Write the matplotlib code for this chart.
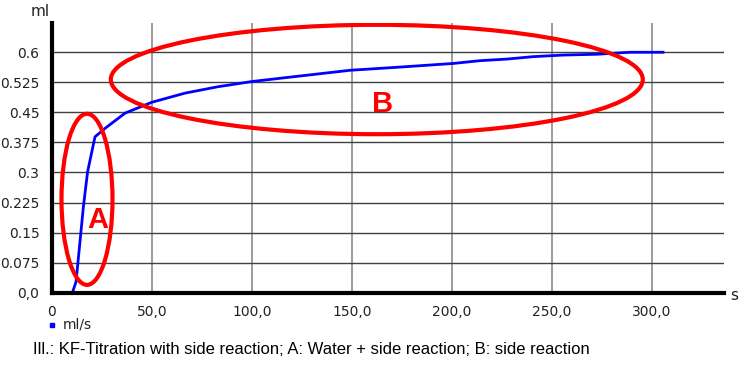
import matplotlib
matplotlib.use("Agg")
import matplotlib.pyplot as plt
from matplotlib.patches import Ellipse

# titration curve (time in s, volume in ml)
time_s = [10.2, 12.0, 13.5, 15.7, 17.8, 21.5, 26.5, 36.5, 49.8, 66.5, 83.0,
          100.0, 115.7, 149.0, 174.0, 200.5, 214.0, 227.5, 240.5, 255.5,
          272.5, 289.0, 305.5]
volume_ml = [0.0, 0.027, 0.102, 0.215, 0.302, 0.389, 0.410, 0.448, 0.475,
             0.498, 0.514, 0.527, 0.536, 0.555, 0.563, 0.572, 0.579, 0.583,
             0.589, 0.593, 0.595, 0.600, 0.600]

x_ticks = [0, 50, 100, 150, 200, 250, 300]
x_labels = ["0", "50,0", "100,0", "150,0", "200,0", "250,0", "300,0"]
y_ticks = [0, 0.075, 0.15, 0.225, 0.3, 0.375, 0.45, 0.525, 0.6]
y_labels = ["0,0", "0.075", "0.15", "0.225", "0.3", "0.375", "0.45", "0.525", "0.6"]

# marked regions: (label, centre t, centre ml, width s, height ml, label t, label ml)
region_names = ["A", "B"]
region_centre_t = [17.5, 162.4]
region_centre_ml = [0.233, 0.532]
region_width_s = [25.5, 266.0]
region_height_ml = [0.427, 0.273]
label_t = [23.0, 165.5]
label_ml = [0.181, 0.471]

caption = "Ill.: KF-Titration with side reaction; A: Water + side reaction; B: side reaction"

fig = plt.figure(figsize=(7.5, 3.7), dpi=100)
ax = fig.add_axes([52 / 750, 77.3 / 370, 672 / 750, 269.7 / 370])

ax.set_xlim(0, 336)
ax.set_ylim(0, 0.673)

for t in x_ticks[1:]:
    ax.axvline(t, color="#8a8a8a", lw=1.2, zorder=1)
for v in y_ticks[1:]:
    ax.axhline(v, color="#404040", lw=1.0, zorder=1)

ax.plot(time_s, volume_ml, color="#0000ff", lw=2, zorder=3)

for i in range(len(region_names)):
    ax.add_patch(Ellipse((region_centre_t[i], region_centre_ml[i]),
                         region_width_s[i], region_height_ml[i],
                         fill=False, edgecolor="#ff0000", lw=3, zorder=4))
    ax.text(label_t[i], label_ml[i], region_names[i], color="#ff0000",
            fontsize=21, fontweight="bold", family="Liberation Sans",
            ha="center", va="center", zorder=5)

ax.set_xticks(x_ticks)
ax.set_xticklabels(x_labels)
ax.set_yticks(y_ticks)
ax.set_yticklabels(y_labels)
ax.tick_params(length=0, labelsize=10, colors="#222222", pad=9)

for side in ["top", "right"]:
    ax.spines[side].set_visible(False)
for side in ["left", "bottom"]:
    ax.spines[side].set_linewidth(3)
    ax.spines[side].set_color("black")
    ax.spines[side].set_zorder(6)

fig.text(40 / 750, 1 - 12 / 370, "ml", fontsize=11, ha="center", va="center", color="#222222")
fig.text(734 / 750, 1 - 295 / 370, "s", fontsize=11, ha="center", va="center", color="#222222")

# legend entry
fig.patches.append(plt.Rectangle((50 / 750, 1 - 327 / 370), 4 / 750, 4 / 370,
                                 transform=fig.transFigure, color="#0000ff"))
fig.text(63 / 750, 1 - 325 / 370, "ml/s", fontsize=10, ha="left", va="center", color="#222222")

fig.text(33 / 750, 1 - 350 / 370, caption, fontsize=12, family="Liberation Sans",
         ha="left", va="center", color="black")

fig.savefig("out.png", dpi=100)
